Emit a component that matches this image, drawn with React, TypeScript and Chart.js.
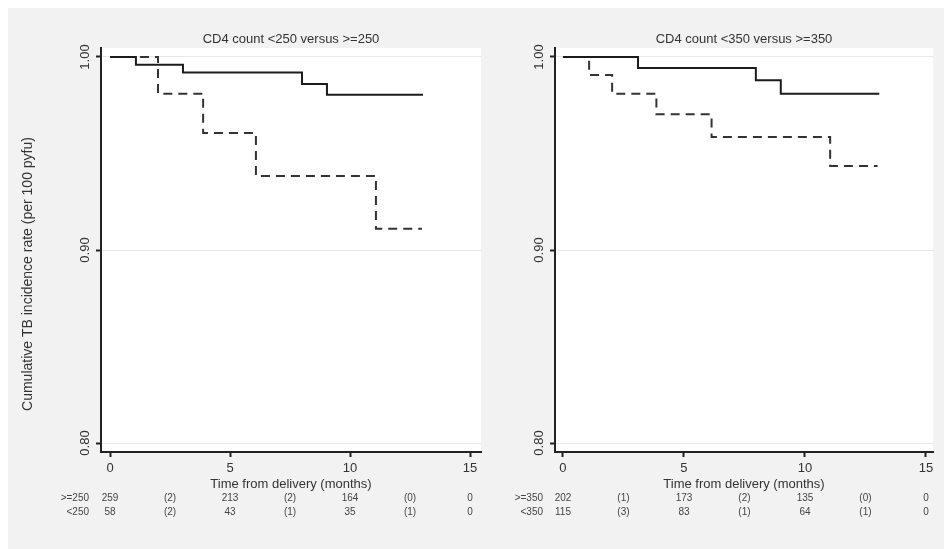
import React, { useEffect, useRef } from "react";
import { Chart, registerables } from "chart.js";

Chart.register(...registerables);

// ---- data ----
const leftTitle = "CD4 count <250 versus >=250";
const rightTitle = "CD4 count <350 versus >=350";
const yAxisTitle = "Cumulative TB incidence rate (per 100 pyfu)";
const xAxisTitle = "Time from delivery (months)";

const xTicks = [0, 5, 10, 15];
const xTickLabels = ["0", "5", "10", "15"];
const yTicks = [0.8, 0.9, 1.0];
const yTickLabels = ["0.80", "0.90", "1.00"];

// Left panel: >=250 (solid), <250 (dashed)
const hi250Times = [0, 1.08, 3.04, 8.0, 9.04, 13.04];
const hi250Surv = [1.0, 0.996, 0.992, 0.986, 0.9805, 0.9805];
const lo250Times = [0, 2.0, 3.88, 6.08, 11.08, 13.0];
const lo250Surv = [1.0, 0.981, 0.9606, 0.9383, 0.911, 0.911];

// Right panel: >=350 (solid), <350 (dashed)
const hi350Times = [0, 3.1, 7.97, 9.0, 13.07];
const hi350Surv = [1.0, 0.9943, 0.988, 0.981, 0.981];
const lo350Times = [0, 1.08, 2.03, 3.86, 6.14, 11.04, 13.0];
const lo350Surv = [1.0, 0.9907, 0.981, 0.9703, 0.9585, 0.9435, 0.9435];

// Numbers at risk table
const riskTimes = [0, 2.5, 5, 7.5, 10, 12.5, 15];
const riskLabelsLeft = [">=250", "<250"];
const riskHi250 = ["259", "(2)", "213", "(2)", "164", "(0)", "0"];
const riskLo250 = ["58", "(2)", "43", "(1)", "35", "(1)", "0"];
const riskLabelsRight = [">=350", "<350"];
const riskHi350 = ["202", "(1)", "173", "(2)", "135", "(0)", "0"];
const riskLo350 = ["115", "(3)", "83", "(1)", "64", "(1)", "0"];

const FONT = "'Liberation Sans', Arial, Helvetica, sans-serif";
const H = 541;

type PanelCfg = {
  width: number;
  padLeft: number;
  padRight: number;
  xMin: number;
  xMax: number;
  title: string;
  showYTitle: boolean;
  solidT: number[];
  solidS: number[];
  dashT: number[];
  dashS: number[];
  riskLabels: string[];
  riskRows: string[][];
};

function toPts(t: number[], s: number[]) {
  return t.map((v, i) => ({ x: v, y: s[i] }));
}

function Panel({ cfg, left }: { cfg: PanelCfg; left: number }) {
  const ref = useRef<HTMLCanvasElement | null>(null);
  useEffect(() => {
    document.body.style.overflow = "hidden";
    document.documentElement.style.overflow = "hidden";
    const canvas = ref.current!;
    const deco = {
      id: "deco",
      beforeDraw(chart: any) {
        const { ctx, chartArea: a } = chart;
        ctx.save();
        ctx.fillStyle = "#ffffff";
        ctx.fillRect(a.left, a.top, a.right - a.left, a.bottom - a.top);
        ctx.restore();
      },
      afterDraw(chart: any) {
        const { ctx, chartArea: a } = chart;
        const xs = chart.scales.x;
        const ys = chart.scales.y;
        const cx = (a.left + a.right) / 2;
        ctx.save();
        ctx.fillStyle = "#333333";
        // title
        ctx.font = `13px ${FONT}`;
        ctx.textAlign = "center";
        ctx.textBaseline = "middle";
        ctx.fillText(cfg.title, cx, 31);
        // x tick labels
        xTicks.forEach((v, i) => {
          ctx.fillText(xTickLabels[i], xs.getPixelForValue(v), 460);
        });
        // x axis title
        ctx.fillText(xAxisTitle, cx, 476);
        // y tick labels (rotated)
        ctx.font = `13px ${FONT}`;
        yTicks.forEach((v, i) => {
          const py = ys.getPixelForValue(v);
          ctx.save();
          ctx.translate(a.left - 16, py);
          ctx.rotate(-Math.PI / 2);
          ctx.fillText(yTickLabels[i], 0, 0);
          ctx.restore();
        });
        // y axis title
        if (cfg.showYTitle) {
          ctx.save();
          ctx.font = `14px ${FONT}`;
          ctx.translate(20, 266);
          ctx.rotate(-Math.PI / 2);
          ctx.fillText(yAxisTitle, 0, 0);
          ctx.restore();
        }
        // risk table
        ctx.font = `10px ${FONT}`;
        ctx.fillStyle = "#444444";
        const rowsY = [490, 504];
        cfg.riskRows.forEach((row, r) => {
          ctx.textAlign = "right";
          ctx.fillText(cfg.riskLabels[r], a.left - 12, rowsY[r]);
          ctx.textAlign = "center";
          row.forEach((txt, i) => {
            ctx.fillText(txt, xs.getPixelForValue(riskTimes[i]), rowsY[r]);
          });
        });
        ctx.restore();
      },
    };
    const chart = new Chart(canvas, {
      type: "line",
      data: {
        datasets: [
          {
            data: toPts(cfg.solidT, cfg.solidS),
            borderColor: "#1c1c1c",
            borderWidth: 2,
            pointRadius: 0,
            stepped: "before",
            fill: false,
          },
          {
            data: toPts(cfg.dashT, cfg.dashS),
            borderColor: "#333333",
            borderWidth: 2,
            borderDash: [9, 6],
            pointRadius: 0,
            stepped: "before",
            fill: false,
          },
        ],
      },
      options: {
        animation: false,
        responsive: false,
        events: [],
        layout: {
          padding: { left: cfg.padLeft, right: cfg.padRight, top: 40, bottom: H - 444 },
        },
        plugins: {
          legend: { display: false },
          tooltip: { enabled: false },
          title: { display: false },
        },
        scales: {
          x: {
            type: "linear",
            min: cfg.xMin,
            max: cfg.xMax,
            afterFit: (s: any) => {
              s.height = 0;
            },
            afterBuildTicks: (s: any) => {
              s.ticks = xTicks.map((v) => ({ value: v }));
            },
            grid: {
              drawOnChartArea: false,
              drawTicks: true,
              tickLength: 5,
              tickColor: "#222222",
              tickWidth: 2,
            },
            border: { display: true, color: "#222222", width: 2 },
            ticks: { display: false },
          },
          y: {
            type: "linear",
            min: 0.79534,
            max: 1.00466,
            afterFit: (s: any) => {
              s.width = 0;
            },
            afterBuildTicks: (s: any) => {
              s.ticks = yTicks.map((v) => ({ value: v }));
            },
            grid: {
              drawOnChartArea: true,
              color: "#e8e8e8",
              lineWidth: 1,
              drawTicks: true,
              tickLength: 5,
              tickColor: "#222222",
              tickWidth: 2,
            },
            border: { display: true, color: "#222222", width: 2 },
            ticks: { display: false },
          },
        },
      },
      plugins: [deco],
    } as any);
    return () => chart.destroy();
  }, [cfg]);
  return (
    <canvas
      ref={ref}
      width={cfg.width}
      height={H}
      style={{ position: "absolute", left, top: 0, width: cfg.width, height: H }}
    />
  );
}

const leftCfg: PanelCfg = {
  width: 474,
  padLeft: 93,
  padRight: 1,
  xMin: -0.375,
  xMax: 15.458,
  title: leftTitle,
  showYTitle: true,
  solidT: hi250Times,
  solidS: hi250Surv,
  dashT: lo250Times,
  dashS: lo250Surv,
  riskLabels: riskLabelsLeft,
  riskRows: [riskHi250, riskLo250],
};

const rightCfg: PanelCfg = {
  width: 470,
  padLeft: 73,
  padRight: 19,
  xMin: -0.33,
  xMax: 15.29,
  title: rightTitle,
  showYTitle: false,
  solidT: hi350Times,
  solidS: hi350Surv,
  dashT: lo350Times,
  dashS: lo350Surv,
  riskLabels: riskLabelsRight,
  riskRows: [riskHi350, riskLo350],
};

export default function App() {
  return (
    <div style={{ position: "relative", width: 944, height: H, background: "#f2f2f2", overflow: "hidden" }}>
      <Panel cfg={leftCfg} left={0} />
      <Panel cfg={rightCfg} left={474} />
    </div>
  );
}
